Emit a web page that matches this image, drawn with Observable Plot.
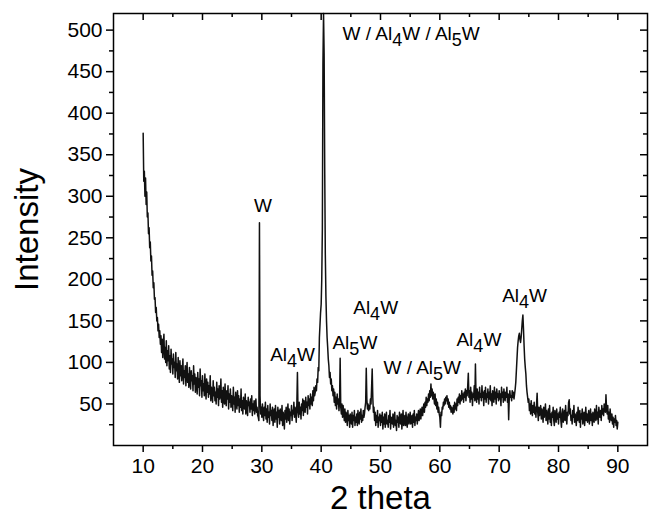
<!DOCTYPE html>
<html><head><meta charset="utf-8">
<script src="https://cdn.jsdelivr.net/npm/d3@7"></script>
<script src="https://cdn.jsdelivr.net/npm/@observablehq/plot@0.6"></script>
<style>body{margin:0;background:#fff;} svg{display:block;}</style>
</head><body><div id="chart"></div>
<script>
// 2 theta grid: 10.0 to 90.0 in steps of 0.1 degree (one row per degree)
const twoThetaStart = 10;
const twoThetaStep = 0.1;
const intensity = [
  376, 318, 330, 300, 322, 290, 305, 275, 280, 255,
  262, 238, 245, 222, 228, 205, 210, 190, 196, 176,
  178, 160, 166, 150, 154, 138, 146, 130, 138, 122,
  132, 112, 128, 106, 124, 134, 104, 118, 100, 126,
  96, 114, 102, 120, 92, 108, 88, 116, 98, 104,
  86, 110, 94, 100, 82, 112, 90, 98, 80, 106,
  88, 76, 102, 84, 96, 78, 92, 104, 74, 90,
  82, 96, 72, 88, 100, 76, 86, 70, 94, 80,
  68, 90, 78, 84, 66, 96, 74, 86, 64, 82,
  76, 62, 88, 70, 80, 60, 92, 72, 78, 58,
  84, 66, 74, 60, 86, 68, 56, 80, 64, 76,
  58, 72, 62, 84, 54, 70, 66, 52, 78, 60,
  70, 54, 64, 50, 76, 58, 68, 48, 72, 56,
  62, 80, 52, 66, 46, 70, 58, 50, 74, 54,
  48, 66, 56, 72, 44, 62, 52, 68, 46, 60,
  54, 42, 70, 50, 58, 40, 64, 52, 44, 66,
  48, 60, 40, 56, 46, 68, 42, 54, 38, 58,
  50, 44, 62, 38, 54, 46, 36, 58, 48, 52,
  40, 56, 44, 60, 36, 50, 42, 54, 38, 48,
  56, 40, 46, 36, 34, 30, 268, 60, 38, 46,
  34, 50, 38, 30, 46, 36, 52, 32, 44, 28,
  48, 34, 40, 26, 50, 36, 42, 30, 46, 24,
  38, 44, 28, 48, 32, 40, 22, 46, 34, 42,
  26, 44, 36, 30, 48, 24, 40, 34, 20, 42,
  32, 46, 28, 38, 50, 30, 44, 26, 40, 36,
  48, 30, 42, 38, 52, 34, 46, 40, 28, 50,
  88, 40, 34, 52, 38, 46, 32, 50, 42, 56,
  36, 54, 44, 40, 58, 46, 52, 38, 60, 48,
  56, 44, 62, 50, 58, 48, 66, 54, 70, 60,
  64, 72, 66, 80, 76, 94, 90, 130, 145, 160,
  170, 200, 260, 460, 520, 470, 330, 230, 180, 150,
  130, 118, 104, 96, 82, 88, 74, 80, 66, 72,
  60, 68, 52, 64, 48, 58, 44, 62, 50, 56,
  42, 54, 105, 46, 38, 50, 34, 48, 40, 30,
  44, 28, 40, 34, 24, 42, 30, 36, 22, 38,
  32, 26, 40, 22, 36, 30, 42, 24, 34, 28,
  38, 24, 42, 30, 26, 40, 32, 44, 28, 36,
  30, 42, 34, 38, 46, 52, 93, 56, 44, 50,
  42, 48, 44, 56, 50, 70, 92, 58, 40, 46,
  30, 40, 24, 36, 28, 42, 22, 34, 30, 38,
  24, 36, 28, 40, 20, 34, 26, 38, 22, 32,
  40, 26, 30, 22, 36, 28, 42, 20, 34, 30,
  26, 38, 22, 32, 40, 24, 30, 18, 36, 28,
  34, 22, 40, 30, 26, 38, 20, 32, 42, 24,
  30, 36, 24, 40, 28, 22, 34, 38, 26, 32,
  40, 26, 30, 36, 22, 38, 28, 42, 24, 34,
  30, 38, 26, 34, 42, 30, 36, 44, 32, 40,
  46, 36, 44, 50, 40, 52, 46, 58, 48, 56,
  52, 62, 54, 66, 58, 74, 60, 68, 56, 64,
  58, 50, 62, 48, 56, 44, 52, 40, 46, 38,
  34, 22, 40, 36, 46, 44, 52, 48, 56, 50,
  58, 54, 60, 50, 56, 46, 52, 44, 48, 40,
  46, 42, 38, 48, 40, 52, 44, 50, 42, 56,
  48, 58, 52, 62, 50, 60, 54, 66, 56, 62,
  52, 64, 58, 68, 54, 66, 60, 72, 87, 58,
  66, 52, 70, 56, 64, 48, 62, 58, 72, 54,
  98, 60, 52, 68, 56, 64, 50, 70, 58, 62,
  54, 72, 58, 64, 48, 66, 56, 70, 52, 62,
  58, 68, 50, 64, 56, 72, 54, 62, 48, 66,
  60, 52, 70, 56, 64, 50, 68, 58, 62, 54,
  66, 56, 62, 48, 70, 58, 64, 52, 68, 60,
  54, 64, 58, 70, 52, 62, 31, 56, 66, 58,
  60, 54, 66, 58, 64, 56, 62, 68, 76, 90,
  104, 118, 126, 132, 135, 128, 124, 130, 140, 150,
  157, 140, 120, 104, 94, 86, 72, 64, 58, 52,
  56, 42, 50, 38, 54, 44, 36, 48, 40, 52,
  38, 46, 34, 50, 63, 40, 30, 46, 36, 42,
  48, 32, 44, 38, 28, 46, 34, 40, 50, 30,
  42, 36, 26, 44, 32, 48, 28, 38, 24, 40,
  34, 46, 30, 24, 42, 36, 28, 44, 32, 38,
  26, 40, 34, 46, 30, 22, 38, 44, 28, 36,
  42, 30, 48, 34, 26, 40, 36, 52, 55, 38,
  44, 30, 36, 26, 42, 34, 48, 28, 38, 32,
  24, 40, 30, 46, 34, 28, 42, 22, 38, 32,
  44, 26, 36, 40, 24, 34, 46, 30, 38, 28,
  36, 42, 26, 32, 44, 30, 38, 24, 40, 34,
  28, 44, 36, 30, 48, 32, 40, 26, 46, 38,
  34, 42, 30, 48, 38, 44, 36, 50, 46, 40,
  61, 44, 38, 48, 32, 40, 28, 44, 34, 30,
  38, 26, 34, 22, 32, 28, 36, 24, 30, 20,
  28
];

const xDomain = [5, 95];
const yDomain = [0, 520];
const xMajor = [10, 20, 30, 40, 50, 60, 70, 80, 90];
const xMinor = [15, 25, 35, 45, 55, 65, 75, 85];
const yMajor = [50, 100, 150, 200, 250, 300, 350, 400, 450, 500];
const yMinor = [25, 75, 125, 175, 225, 275, 325, 375, 425, 475];

const labelText = ["W", "W / Al4W / Al5W", "Al4W", "Al5W", "Al4W", "W / Al5W", "Al4W", "Al4W"];
const labelX = [28.7, 43.6, 31.4, 41.9, 45.4, 50.5, 62.8, 70.5];
const labelY = [289, 496, 109, 124, 166, 94, 127, 180];

const xTitle = "2 theta";
const yTitle = "Intensity";

const data = intensity.map((v, i) => ({x: +(twoThetaStart + i * twoThetaStep).toFixed(1), y: v}));
const labels = labelText.map((t, i) => ({t, x: labelX[i], y: labelY[i]}));

const font = "'Liberation Sans', Arial, Helvetica, sans-serif";
const sw = 1.5;

const chart = Plot.plot({
  width: 653,
  height: 521,
  marginLeft: 113,
  marginRight: 6,
  marginTop: 13,
  marginBottom: 76,
  style: {fontFamily: font, background: "#fff", color: "#000"},
  x: {domain: xDomain},
  y: {domain: yDomain},
  marks: [
    Plot.line(data, {x: "x", y: "y", stroke: "#111", strokeWidth: 1.5}),
    Plot.frame({stroke: "#000", strokeWidth: sw}),
    Plot.axisX(xMajor, {tickSize: 7, tickPadding: 6, fontSize: 21, strokeWidth: sw, label: null}),
    Plot.axisX(xMinor, {tickSize: 4, tickFormat: () => "", strokeWidth: sw, label: null}),
    Plot.axisY(yMajor, {tickSize: 7, tickPadding: 4, fontSize: 21, strokeWidth: sw, label: null}),
    Plot.axisY(yMinor, {tickSize: 4, tickFormat: () => "", strokeWidth: sw, label: null}),
    Plot.ruleX(xMajor, {x: d => d, y1: yDomain[1], y2: yDomain[1], insetBottom: -7, strokeWidth: sw}),
    Plot.ruleX(xMinor, {x: d => d, y1: yDomain[1], y2: yDomain[1], insetBottom: -4, strokeWidth: sw}),
    Plot.ruleY(yMajor, {y: d => d, x1: xDomain[1], x2: xDomain[1], insetLeft: -7, strokeWidth: sw}),
    Plot.ruleY(yMinor, {y: d => d, x1: xDomain[1], x2: xDomain[1], insetLeft: -4, strokeWidth: sw}),
    Plot.text(labels, {x: "x", y: "y", text: "t", textAnchor: "start", fontSize: 19, fill: "#000"}),
    Plot.text([yTitle], {frameAnchor: "left", textAnchor: "middle", lineAnchor: "middle", rotate: -90, dx: -86, fontSize: 33, fill: "#000"}),
    Plot.text([xTitle], {frameAnchor: "bottom", textAnchor: "middle", lineAnchor: "middle", dy: 53, fontSize: 33, fill: "#000"})
  ]
});

document.getElementById("chart").appendChild(chart);

// render the digits in the phase names as subscripts
d3.select(chart).selectAll("text").each(function() {
  const el = d3.select(this);
  const s = el.text();
  if (!/Al\d/.test(s)) return;
  el.selectAll("*").remove();
  el.text(null);
  const parts = s.split(/(\d)/).filter(p => p.length);
  let down = false;
  parts.forEach(p => {
    if (/^\d$/.test(p)) {
      el.append("tspan").attr("dy", "0.35em").style("font-size", "0.95em").text(p);
      down = true;
    } else {
      const t = el.append("tspan").text(p);
      if (down) { t.attr("dy", "-0.33em"); down = false; }
    }
  });
});
</script></body></html>
